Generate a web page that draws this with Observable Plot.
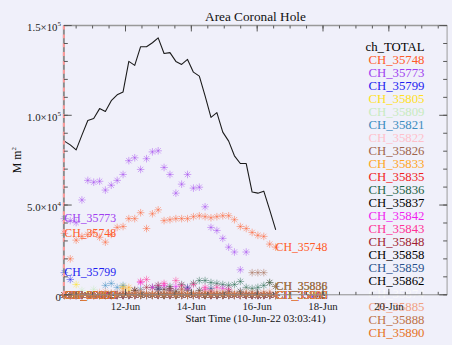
<!DOCTYPE html>
<html><head><meta charset="utf-8">
<script src="https://cdn.jsdelivr.net/npm/d3@7"></script>
<script src="https://cdn.jsdelivr.net/npm/@observablehq/plot@0.6"></script>
<style>
html,body{margin:0;padding:0;background:#f0f0fa;overflow:hidden;width:452px;height:345px;}
svg{display:block;}
svg text, svg tspan{font-family:"Liberation Serif","DejaVu Serif" !important;}
</style></head><body><div id="chart"></div>
<script>
const startTime = "2022-06-10T03:03:41Z";
const xEndHours = 279.4;
// observation times, hours after start
const hours = [0,4.3,8.6,12.8,17.1,21.4,25.7,29.9,34.2,38.5,42.8,47.0,51.3,55.6,59.9,64.2,68.4,72.7,77.0,81.3,85.5,89.8,94.1,98.4,102.6,106.9,111.2,115.5,119.8,124.0,128.3,132.6,136.9,141.1,145.4,149.7,154.0];

const seriesNames = ["ch_TOTAL","CH_35748","CH_35773","CH_35799","CH_35805","CH_35809","CH_35821","CH_35822","CH_35826","CH_35833","CH_35835","CH_35836","CH_35837","CH_35842","CH_35843","CH_35848","CH_35858","CH_35859","CH_35862","CH_35874","CH_35885","CH_35888","CH_35890"];
const seriesColors = ["#000000","#ff5a28","#a040f0","#1e1ef0","#ffe01e","#c8ebc0","#3c8cc0","#ffc0cb","#a0644b","#ffa51e","#f01e1e","#1e6446","#000000","#f01ef0","#ff3296","#a01e32","#000000","#28508c","#000000","#fafafa","#f0a082","#be7046","#e6731e"];

const chTotal = [85900,83800,81000,89200,97400,98500,104000,102400,108400,111700,113300,130300,128100,138500,138500,140700,143400,134700,135200,130300,128600,131400,124300,122100,111100,99100,101800,90900,85900,77700,73400,73400,57500,56900,58000,47600,36700];
const ch35748 = [34500,20300,30700,32800,33900,35000,32300,29600,33900,37800,38300,42700,42700,46000,37200,45400,47600,41600,42100,42700,42700,42700,43800,44300,43800,43200,43800,44300,44300,42100,38300,37200,35000,33400,32800,28500,26800];
const ch35773 = [42700,41600,40500,53100,64000,63000,63500,58600,61300,64000,67300,75000,76600,70100,76100,79900,80500,71200,67300,56900,61900,67300,59700,60200,49300,37800,36100,31700,26800,24100,14200,24100,0,0,0,0,0];
const ch35799 = [12600,8800,0,0,0,0,0,0,0,0, 0,0,0,0,0,0,0,0,0,0, 0,0,0,0,0,0,0,0,0,0, 0,0,0,0,0,0,0];
const ch35805 = [0,0,6000,0,0,0,0,0,0,0, 4900,2700,0,0,0,0,0,0,0,0, 0,0,0,0,0,0,0,0,0,0, 0,0,0,0,0,0,0];
const ch35809 = [0,0,0,2700,0,3300,0,0,0,0, 0,0,0,0,0,0,0,0,0,0, 3800,0,0,0,0,0,0,2700,0,0, 0,0,0,0,0,0,0];
const ch35821 = [0,0,0,0,0,0,0,5500,6600,4400, 5500,0,0,3300,0,0,3800,0,0,0, 0,0,0,0,0,0,0,0,0,0, 0,0,0,0,0,0,0];
const ch35822 = [0,0,0,0,0,0,0,0,0,0, 0,0,3300,0,0,3800,0,0,3300,0, 0,3800,0,0,0,2700,0,0,0,0, 0,0,0,0,0,0,0];
const ch35826 = [0,0,0,0,0,0,0,0,0,0, 0,0,2700,2200,0,0,0,0,0,0, 0,0,0,0,0,0,0,0,0,0, 0,0,12600,12600,12600,7100,0];
const ch35833 = [0,0,0,0,0,0,0,0,0,0, 3800,4400,0,0,0,0,0,0,0,0, 0,0,0,0,0,0,0,0,0,0, 0,0,0,0,0,0,0];
const ch35835 = [0,0,0,0,0,0,0,0,0,0, 0,0,0,0,0,0,0,0,2700,0, 0,0,0,0,0,2200,0,0,0,0, 0,0,0,0,0,0,0];
const ch35836 = [0,0,0,0,0,0,0,0,0,0, 0,0,0,0,0,4400,5500,0,4900,0, 6000,0,6600,8200,8200,7100,6600,6000,5500,6000, 7700,4400,3800,4400,5500,7100,4900];
const ch35837 = [0,0,0,0,0,0,0,0,0,0, 0,0,0,0,0,0,0,3300,0,0, 0,2700,0,0,0,0,0,0,2200,0, 0,0,0,0,0,0,0];
const ch35842 = [0,0,0,0,0,0,0,0,0,0, 0,0,0,7100,0,4400,0,5500,0,4900, 0,3800,0,0,3300,0,0,3800,0,0, 0,0,0,0,0,0,0];
const ch35843 = [0,0,0,0,0,0,0,0,0,0, 0,0,0,7700,8800,0,5500,6600,0,8200, 5500,0,6000,0,4400,0,4400,0,3300,0, 0,0,0,0,0,0,0];
const ch35848 = [0,0,0,0,0,0,0,0,0,0, 0,0,0,0,4400,0,3300,0,3800,0, 3300,0,0,0,0,0,0,0,0,0, 0,0,0,0,0,0,0];
const ch35858 = [0,0,0,0,0,0,0,0,0,0, 0,0,2700,0,0,0,0,0,0,2200, 0,0,0,0,0,0,0,0,0,0, 0,0,0,0,0,0,0];
const ch35859 = [0,0,0,0,0,0,0,0,0,0, 0,0,0,0,0,0,3300,0,2700,0, 0,4400,0,0,0,3800,0,0,0,0, 0,0,0,0,0,0,0];
const ch35862 = [0,0,0,0,0,0,0,0,0,0, 0,0,0,0,0,0,0,0,0,0, 0,0,0,2700,0,0,0,0,0,0, 2200,0,0,0,0,0,0];
const ch35874 = [0,0,0,0,0,0,0,0,0,0, 0,0,0,0,0,0,0,0,0,0, 0,0,0,0,0,0,0,0,0,0, 0,0,0,0,0,0,0];
const ch35885 = [0,0,0,0,0,0,1600,2200,1100,1600, 2200,1100,1600,2200,1100,1600,1100,2200,1600,1100, 2200,1600,1100,1600,2200,1100,1600,2200,1100,1600, 1100,2200,1600,1100,1600,2200,0];
const ch35888 = [0,0,0,0,0,0,0,600,1100,500, 1100,700,1100,600,1000,600,1100,500,1100,700, 1100,600,1000,600,1100,500,1100,700,1100,600, 1000,600,1100,500,1100,700,4900];
const ch35890 = [0,0,0,0,0,0,0,0,0,0, 0,0,0,0,0,0,0,0,0,0, 0,0,0,0,0,0,0,0,0,0, 0,0,0,0,0,0,0];

const xTicks = ["2022-06-12","2022-06-14","2022-06-16","2022-06-18","2022-06-20"];
const xTickLabels = ["12-Jun","14-Jun","16-Jun","18-Jun","20-Jun"];
const yTicks = [0,50000,100000,150000];
const yTickLabels = ["0","5.0×10|4","1.0×10|5","1.5×10|5"];

const valuesList = [chTotal,ch35748,ch35773,ch35799,ch35805,ch35809,ch35821,ch35822,ch35826,ch35833,ch35835,ch35836,ch35837,ch35842,ch35843,ch35848,ch35858,ch35859,ch35862,ch35874,ch35885,ch35888,ch35890];

const t0 = new Date(startTime);
const at = h => new Date(t0.getTime() + h * 3600000);
const font = "Liberation Serif, DejaVu Serif";

const totalRows = chTotal.map((v, i) => ({t: at(hours[i]), v}));
const pointRows = [];
const labelRows = [];
seriesNames.forEach((name, k) => {
  if (k === 0) return;
  const vals = valuesList[k];
  vals.forEach((v, i) => {
    pointRows.push({name, t: at(hours[i]), v, sym: "plus"});
    pointRows.push({name, t: at(hours[i]), v, sym: "times"});
  });
  labelRows.push({name, t: at(hours[0]), v: vals[0]});
  labelRows.push({name, t: at(hours[hours.length - 1]), v: vals[vals.length - 1]});
});

const plot = Plot.plot({
  width: 460, height: 345,
  marginLeft: 65, marginRight: 5, marginTop: 26, marginBottom: 45,
  x: {type: "utc", domain: [t0, at(xEndHours)], axis: null},
  y: {domain: [0, 150000], axis: null},
  color: {type: "ordinal", domain: seriesNames, range: seriesColors},
  symbol: {type: "identity"},
  style: {background: "transparent", fontFamily: font, overflow: "visible"},
  marks: [
    Plot.line(totalRows, {x: "t", y: "v", stroke: "#1a1a1a", strokeWidth: 1.1}),
    Plot.dot(pointRows, {x: "t", y: "v", stroke: "name", symbol: "sym", r: 2.6, strokeWidth: 0.9, strokeOpacity: 0.5}),
    Plot.text(labelRows, {x: "t", y: "v", text: "name", fill: "name", textAnchor: "start", fontSize: 12, fontFamily: font})
  ]
});
document.getElementById("chart").appendChild(plot);

const svg = d3.select(plot);
const xs = plot.scale("x"), ys = plot.scale("y");
const X = v => xs.apply(v), Y = v => ys.apply(v);
const L = X(t0), R = X(at(xEndHours)), T = Y(150000), B = Y(0);

const leg = svg.append("g").attr("font-family", font).attr("font-size", 13).attr("text-anchor", "end");
seriesNames.forEach((name, i) => {
  leg.append("text").attr("x", 432).attr("y", 47 + i * 13.23).attr("dy", "0.35em")
    .attr("fill", seriesColors[i]).text(name);
});

const ax = svg.append("g");
ax.append("line").attr("x1", L).attr("x2", R).attr("y1", B).attr("y2", B).attr("stroke", "#8c8c8c").attr("stroke-width", 1);
ax.append("line").attr("x1", L).attr("x2", R).attr("y1", T).attr("y2", T).attr("stroke", "#999").attr("stroke-width", 1.5);
ax.append("line").attr("x1", R).attr("x2", R).attr("y1", T).attr("y2", B).attr("stroke", "#999").attr("stroke-width", 1);
ax.append("line").attr("x1", L).attr("x2", L).attr("y1", T).attr("y2", B).attr("stroke", "#8c8c8c").attr("stroke-width", 2);
ax.append("line").attr("x1", L).attr("x2", L).attr("y1", T).attr("y2", B).attr("stroke", "#ff9a9a").attr("stroke-width", 2).attr("stroke-dasharray", "4,5");

const tickColor = "#555";
const minorX = d3.utcHour.every(12).range(t0, at(xEndHours));
minorX.forEach(d => {
  const x = X(d);
  ax.append("line").attr("x1", x).attr("x2", x).attr("y1", B).attr("y2", B - 3).attr("stroke", tickColor);
  ax.append("line").attr("x1", x).attr("x2", x).attr("y1", T).attr("y2", T + 3).attr("stroke", tickColor);
});
xTicks.forEach((s, i) => {
  const x = X(new Date(s + "T00:00:00Z"));
  ax.append("line").attr("x1", x).attr("x2", x).attr("y1", B).attr("y2", B - 6).attr("stroke", tickColor);
  ax.append("line").attr("x1", x).attr("x2", x).attr("y1", T).attr("y2", T + 6).attr("stroke", tickColor);
  ax.append("text").attr("x", x).attr("y", 312).attr("dy", "0.35em").attr("text-anchor", "middle")
    .attr("font-family", font).attr("font-size", 11).attr("fill", "#222").text(xTickLabels[i]);
});
d3.range(0, 150001, 10000).forEach(v => {
  const y = Y(v);
  ax.append("line").attr("x1", L).attr("x2", L + 4).attr("y1", y).attr("y2", y).attr("stroke", tickColor);
  ax.append("line").attr("x1", R).attr("x2", R - 4).attr("y1", y).attr("y2", y).attr("stroke", tickColor);
});
yTicks.forEach((v, i) => {
  const y = Y(v);
  ax.append("line").attr("x1", L).attr("x2", L + 8).attr("y1", y).attr("y2", y).attr("stroke", tickColor);
  ax.append("line").attr("x1", R).attr("x2", R - 8).attr("y1", y).attr("y2", y).attr("stroke", tickColor);
  const parts = yTickLabels[i].split("|");
  const t = ax.append("text").attr("x", 62).attr("y", y + 2).attr("dy", "0.35em").attr("text-anchor", "end")
    .attr("font-family", font).attr("font-size", 11).attr("fill", "#222");
  t.append("tspan").text(parts[0]);
  if (parts[1]) t.append("tspan").attr("font-size", 7).attr("dy", "-0.75em").text(parts[1]);
});

svg.append("text").attr("x", (L + R) / 2).attr("y", 17).attr("dy", "0.35em").attr("text-anchor", "middle")
  .attr("font-family", font).attr("font-size", 13.5).attr("fill", "#111").text("Area Coronal Hole");
svg.append("text").attr("x", (L + R) / 2).attr("y", 324).attr("dy", "0.35em").attr("text-anchor", "middle")
  .attr("font-family", font).attr("font-size", 11).attr("fill", "#111").text("Start Time (10-Jun-22 03:03:41)");
const yl = svg.append("text").attr("transform", `translate(17,${(T + B) / 2}) rotate(-90)`).attr("dy", "0.35em")
  .attr("text-anchor", "middle").attr("font-family", font).attr("font-size", 12).attr("fill", "#111");
yl.append("tspan").text("M m");
yl.append("tspan").attr("font-size", 7).attr("dy", "-0.7em").text("2");
</script></body></html>
